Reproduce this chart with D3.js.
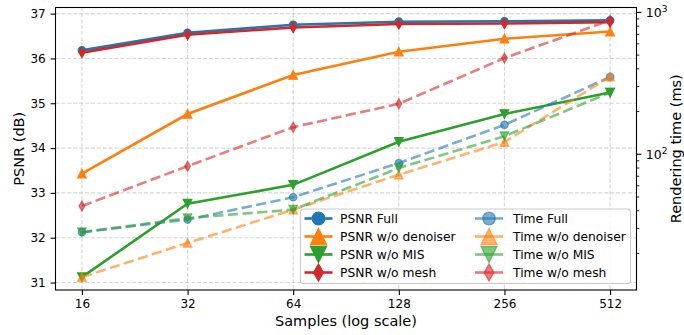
<!DOCTYPE html>
<html>
<head>
<meta charset="utf-8">
<script src="https://cdn.jsdelivr.net/npm/d3@7"></script>
<style>
  body { margin: 0; background: #fff; }
  text { font-family: "DejaVu Sans", sans-serif; fill: #000; }
</style>
</head>
<body>
<svg id="chart" width="684" height="335"></svg>
<script>
// values
const samples = [16, 32, 64, 128, 256, 512]
const psnrFull = [36.18, 36.57, 36.75, 36.82, 36.83, 36.85]
const psnrNoDenoiser = [33.43, 34.76, 35.63, 36.15, 36.44, 36.60]
const psnrNoMis = [31.12, 32.76, 33.18, 34.14, 34.76, 35.24]
const psnrNoMesh = [36.13, 36.53, 36.69, 36.77, 36.78, 36.81]
const timeFull = [28.0, 34.4, 49.4, 85.9, 160, 348]
const timeNoDenoiser = [13.5, 23.5, 40.4, 71.2, 121, 350]
const timeNoMis = [28.0, 35.2, 40.4, 79.3, 133, 270]
const timeNoMesh = [42.8, 81.8, 154, 225, 473, 872]
const psnrTicks = [31, 32, 33, 34, 35, 36, 37]
const timeMajorTicks = [100, 1000]
const timeMinorTicks = [20, 30, 40, 50, 60, 70, 80, 90, 200, 300, 400, 500, 600, 700, 800, 900]

const colors = { blue: '#1f77b4', orange: '#ff7f0e', green: '#2ca02c', red: '#d62728' }

const psnrSeries = [
  { name: 'PSNR Full', values: psnrFull, color: colors.blue, marker: 'circle' },
  { name: 'PSNR w/o denoiser', values: psnrNoDenoiser, color: colors.orange, marker: 'up' },
  { name: 'PSNR w/o MIS', values: psnrNoMis, color: colors.green, marker: 'down' },
  { name: 'PSNR w/o mesh', values: psnrNoMesh, color: colors.red, marker: 'thin' }
]
const timeSeries = [
  { name: 'Time Full', values: timeFull, color: colors.blue, marker: 'circle' },
  { name: 'Time w/o denoiser', values: timeNoDenoiser, color: colors.orange, marker: 'up' },
  { name: 'Time w/o MIS', values: timeNoMis, color: colors.green, marker: 'down' },
  { name: 'Time w/o mesh', values: timeNoMesh, color: colors.red, marker: 'thin' }
]

const plot = { left: 55.5, right: 636.5, top: 7.5, bottom: 290 }
const svg = d3.select('#chart')

// matplotlib style 5% margins
const padded = ([a, b]) => { const p = (b - a) * 0.05; return [a - p, b + p] }

const lx = padded(d3.extent(samples).map(Math.log2))
const x = d3.scaleLog().base(2).domain([2 ** lx[0], 2 ** lx[1]]).range([plot.left, plot.right])

const yL = d3.scaleLinear()
  .domain(padded(d3.extent(psnrSeries.flatMap(s => s.values))))
  .range([plot.bottom, plot.top])

const ly = padded(d3.extent(timeSeries.flatMap(s => s.values)).map(Math.log10))
const yR = d3.scaleLog().domain([10 ** ly[0], 10 ** ly[1]]).range([plot.bottom, plot.top])

const markerPath = (type, s) => {
  const h = s / 2
  if (type === 'circle') return d3.symbol(d3.symbolCircle, Math.PI * h * h)()
  if (type === 'up') return `M0,${-h}L${h},${h}L${-h},${h}Z`
  if (type === 'down') return `M0,${h}L${h},${-h}L${-h},${-h}Z`
  return `M0,${-h * 1.3}L${h * 0.75},0L0,${h * 1.3}L${-h * 0.75},0Z`
}
const markerSize = { circle: 7.4, up: 8.4, down: 8.4, thin: 7.6 }

// grid
const grid = svg.append('g').attr('stroke', '#b0b0b0').attr('stroke-opacity', 0.5)
  .attr('stroke-width', 1.1).attr('stroke-dasharray', '4.1,1.8')
grid.selectAll('line.gx').data(samples).join('line').attr('class', 'gx')
  .attr('x1', d => x(d)).attr('x2', d => x(d)).attr('y1', plot.top).attr('y2', plot.bottom)
grid.selectAll('line.gy').data(psnrTicks).join('line').attr('class', 'gy')
  .attr('y1', d => yL(d)).attr('y2', d => yL(d)).attr('x1', plot.left).attr('x2', plot.right)

const drawSeries = (list, y, dashed) => {
  list.forEach(s => {
    const g = svg.append('g')
    const pts = samples.map((d, i) => [x(d), y(s.values[i])])
    g.append('path')
      .attr('d', d3.line()(pts))
      .attr('fill', 'none')
      .attr('stroke', s.color)
      .attr('stroke-width', 2.6)
      .attr('stroke-opacity', dashed ? 0.6 : 1)
      .attr('stroke-dasharray', dashed ? '10.3,4.4' : null)
    g.selectAll('path.m').data(pts).join('path').attr('class', 'm')
      .attr('transform', d => `translate(${d[0]},${d[1]})`)
      .attr('d', markerPath(s.marker, markerSize[s.marker]))
      .attr('fill', s.color)
      .attr('stroke', s.color)
      .attr('stroke-width', 1.3)
      .attr('fill-opacity', dashed ? 0.6 : 1)
      .attr('stroke-opacity', dashed ? 0.6 : 1)
  })
}
drawSeries(psnrSeries, yL, false)
drawSeries(timeSeries, yR, true)

// axes
const styleAxis = g => {
  g.select('.domain').remove()
  g.selectAll('line').attr('stroke', '#000').attr('stroke-width', 1.1)
  g.selectAll('text').attr('font-size', 12).attr('font-family', '"DejaVu Sans", sans-serif')
}
svg.append('g').attr('transform', `translate(0,${plot.bottom})`)
  .call(d3.axisBottom(x).tickValues(samples).tickFormat(d3.format('d')).tickSize(4.9).tickPadding(4.9))
  .call(styleAxis)
svg.append('g').attr('transform', `translate(${plot.left},0)`)
  .call(d3.axisLeft(yL).tickValues(psnrTicks).tickFormat(d3.format('d')).tickSize(4.9).tickPadding(4.9))
  .call(styleAxis)
svg.append('g').attr('transform', `translate(${plot.right},0)`)
  .call(d3.axisRight(yR).tickValues(timeMinorTicks).tickFormat('').tickSize(2.8))
  .call(styleAxis)
  .selectAll('line').attr('stroke-width', 0.85)
const rAxis = svg.append('g').attr('transform', `translate(${plot.right},0)`)
  .call(d3.axisRight(yR).tickValues(timeMajorTicks).tickFormat('').tickSize(4.9).tickPadding(4.9))
  .call(styleAxis)
rAxis.selectAll('.tick').append('text')
  .attr('x', 9.3).attr('dy', '0.35em').attr('font-size', 12.5).attr('fill', '#000')
  .attr('text-anchor', 'start')
  .each(function(d) {
    const t = d3.select(this)
    t.append('tspan').text('10')
    t.append('tspan').attr('dy', '-0.5em').attr('font-size', 9).text(Math.round(Math.log10(d)))
  })

// spines
svg.append('rect')
  .attr('x', plot.left).attr('y', plot.top)
  .attr('width', plot.right - plot.left).attr('height', plot.bottom - plot.top)
  .attr('fill', 'none').attr('stroke', '#000').attr('stroke-width', 1.1)

// labels
svg.append('text').attr('x', (plot.left + plot.right) / 2).attr('y', 326)
  .attr('text-anchor', 'middle').attr('font-size', 14.5).text('Samples (log scale)')
svg.append('text').attr('transform', `translate(19,${(plot.top + plot.bottom) / 2}) rotate(-90)`)
  .attr('dy', '0.35em').attr('text-anchor', 'middle').attr('font-size', 14.5).text('PSNR (dB)')
svg.append('text').attr('transform', `translate(676,${(plot.top + plot.bottom) / 2}) rotate(-90)`)
  .attr('dy', '0.35em').attr('text-anchor', 'middle').attr('font-size', 14.5).text('Rendering time (ms)')

// legend
const legend = svg.append('g')
legend.append('rect')
  .attr('x', 300.5).attr('y', 209).attr('width', 330).attr('height', 74.5).attr('rx', 3)
  .attr('fill', '#fff').attr('fill-opacity', 0.8).attr('stroke', '#cccccc').attr('stroke-width', 1.1)
const legendMarkerSize = { circle: 12.6, up: 16, down: 16, thin: 13 }
const drawLegendColumn = (list, cx, tx, dashed) => {
  list.forEach((s, i) => {
    const yy = 218.5 + i * 18
    legend.append('line')
      .attr('x1', cx - 14).attr('x2', cx + 14).attr('y1', yy).attr('y2', yy)
      .attr('stroke', s.color).attr('stroke-width', 2.6)
      .attr('stroke-opacity', dashed ? 0.6 : 1)
    legend.append('path')
      .attr('transform', `translate(${cx},${yy})`)
      .attr('d', markerPath(s.marker, legendMarkerSize[s.marker]))
      .attr('fill', s.color).attr('stroke', s.color).attr('stroke-width', 1.3)
      .attr('fill-opacity', dashed ? 0.6 : 1).attr('stroke-opacity', dashed ? 0.6 : 1)
    legend.append('text').attr('x', tx).attr('y', yy).attr('dy', '0.36em')
      .attr('font-size', 12.3).text(s.name)
  })
}
drawLegendColumn(psnrSeries, 318.5, 340, false)
drawLegendColumn(timeSeries, 489, 513, true)
</script>
</body>
</html>
